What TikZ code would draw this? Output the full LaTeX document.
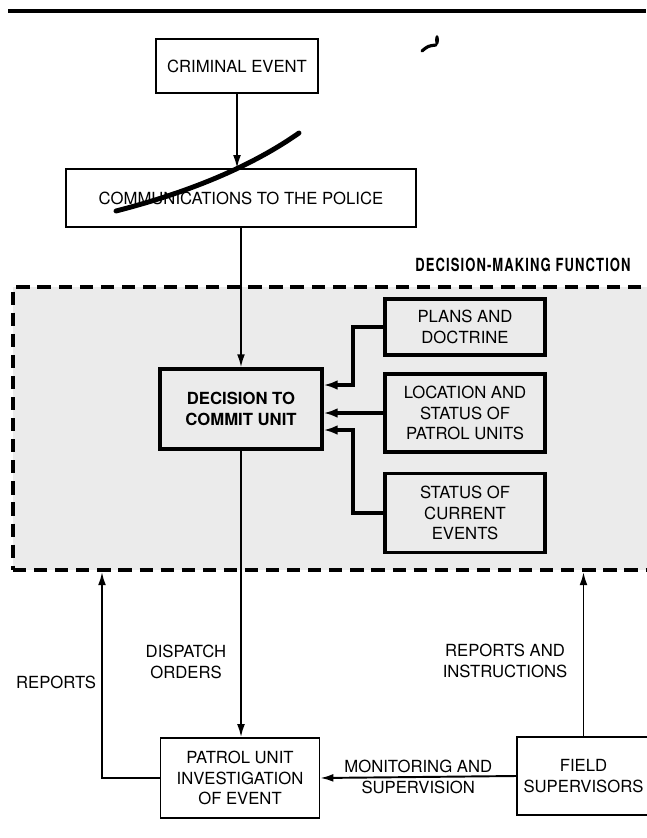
\documentclass[tikz,border=0pt]{standalone}
\usepackage{fontspec}
\setmainfont{TeX Gyre Heros}
\newfontfamily\dmffont[FakeStretch=0.72,LetterSpace=6]{TeX Gyre Heros}
\usepackage{tikz}
\usetikzlibrary{arrows.meta, positioning, calc}
\definecolor{speckle}{gray}{0.92}
\newcommand\diagfont{\fontsize{9.5}{11.5}\selectfont}

\begin{document}
\begin{tikzpicture}[
  x=0.02cm, y=-0.02cm,
  font=\diagfont,
  box/.style={rectangle, draw, align=center, line width=0.9pt, inner sep=2pt},
  heavybox/.style={box, line width=1.8pt},
  arrow/.style={-{Latex[length=7.5pt,width=4.5pt]}, line width=1.1pt},
  heavyarrow/.style={-{Latex[length=8pt,width=5.5pt]}, line width=1.8pt},
  lbl/.style={align=center}]

  \useasboundingbox (0,0) rectangle (646,838);

  % page rule and pen marks
  \draw[line width=2pt] (8,11) -- (646,11);
  \draw[line width=2.8pt, line cap=round] (116,211) .. controls (190,192) and (252,166) .. (299,133);
  \draw[line width=1.8pt, line cap=round] (422,51) .. controls (428,46) .. (436,45);
  \fill (437,40) ellipse (2 and 5);

  % decision-making area
  \node[draw, dash pattern=on 7.5pt off 4.5pt, line width=2.3pt, fill=speckle,
        minimum width=12.94cm, minimum height=5.66cm, inner sep=0pt] (dmf) at (336.5,428.5) {};
  \node[font=\dmffont\bfseries\fontsize{10.3}{12}\selectfont] (dmflabel) at (523,265) {DECISION-MAKING FUNCTION};

  \node[box, minimum width=3.24cm, minimum height=1.08cm] (crim) at (237,66) {CRIMINAL EVENT};
  \node[box, minimum width=7cm, minimum height=1.16cm] (comm) at (241,198) {COMMUNICATIONS TO THE POLICE};
  \node[heavybox, font=\diagfont\bfseries, minimum width=3.24cm, minimum height=1.6cm] (dec) at (241,409) {DECISION TO\\COMMIT UNIT};
  \node[heavybox, minimum width=3.2cm, minimum height=1.12cm] (plans) at (465,327) {PLANS AND\\DOCTRINE};
  \node[heavybox, minimum width=3.2cm, minimum height=1.56cm] (loc) at (465,413) {LOCATION AND\\STATUS OF\\PATROL UNITS};
  \node[heavybox, minimum width=3.2cm, minimum height=1.58cm] (stat) at (465,513) {STATUS OF\\CURRENT\\EVENTS};
  \node[box, minimum width=3.18cm, minimum height=1.6cm] (patrol) at (240,778) {PATROL UNIT\\INVESTIGATION\\OF EVENT};
  \node[box, minimum width=2.66cm, minimum height=1.56cm] (field) at (583.5,776) {FIELD\\SUPERVISORS};

  \node[lbl] (dispatch) at (186,662) {DISPATCH\\ORDERS};
  \node[lbl] (reports) at (56,682) {REPORTS};
  \node[lbl] (repinst) at (505,661) {REPORTS AND\\INSTRUCTIONS};

  \coordinate (jup) at (353,385);
  \coordinate (jlow) at (353,430);
  \coordinate (repx) at (102,0);

  \draw[arrow] (crim.south) -- (crim.south |- comm.north);
  \draw[arrow] (comm.south) -- (dec.north);
  \draw[heavyarrow] (plans.west) -| (jup) -- (jup -| dec.east);
  \draw[heavyarrow] (loc.west) -- (loc.west -| dec.east);
  \draw[heavyarrow] (stat.west) -| (jlow) -- (jlow -| dec.east);
  \draw[arrow] (dec.south) -- (dec.south |- patrol.north);
  \draw[arrow] (patrol.west) -| (repx |- dmf.south);
  \draw[arrow] (field.north) -- (field.north |- dmf.south);
  \draw[arrow] (field.west) -- node[lbl] {MONITORING AND\\SUPERVISION} (patrol.east);
\end{tikzpicture}
\end{document}
